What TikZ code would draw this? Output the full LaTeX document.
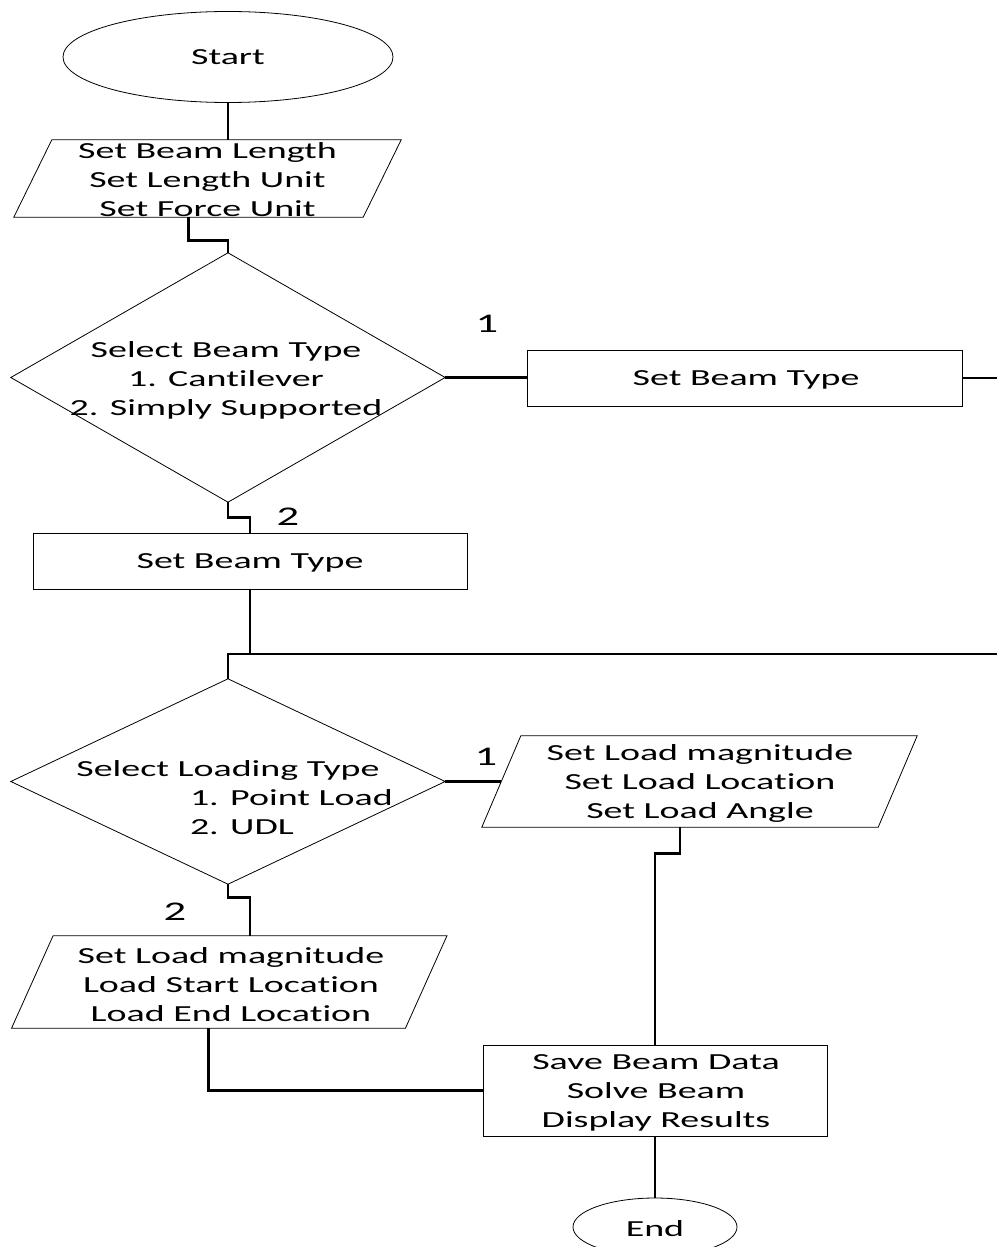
\documentclass[tikz,border=0pt]{standalone}
\usepackage{fontspec}
\setmainfont{Carlito}[FakeStretch=1.65,Ligatures=NoCommon]
\usetikzlibrary{shapes.geometric,calc}
\begin{document}
\begin{tikzpicture}[x=1pt,y=-1pt,
  every node/.style={font=\fontsize{23}{29}\selectfont, inner sep=0pt, align=center},
  shapeline/.style={draw, line width=0.8pt},
  conn/.style={line width=2.8pt},
  lbl/.style={font=\fontsize{27}{30}\selectfont},
  box/.style={rectangle, shapeline},
  holder/.style={rectangle}]
\useasboundingbox (0,0) rectangle (997,1247);

% Start
\node[ellipse, shapeline, minimum width=330pt, minimum height=91pt] (start) at (228,57) {Start};

% parallelogram 1
\node[holder, minimum width=349pt, minimum height=77pt] (p1) at (207.5,178.5) {};
\draw[shapeline] ([xshift=19pt]p1.north west) -- ([xshift=19pt]p1.north east) -- ([xshift=-19pt]p1.south east) -- ([xshift=-19pt]p1.south west) -- cycle;
\node (p1t) at (207.5,180) {Set Beam Length\\Set Length Unit\\Set Force Unit};

% diamond 1
\node[holder, minimum width=434pt, minimum height=249pt] (d1) at (228,377.5) {};
\draw[shapeline] (d1.north) -- (d1.east) -- (d1.south) -- (d1.west) -- cycle;
\node (d1t) at (226,380) {Select Beam Type\\1. Cantilever\\2. Simply Supported};

% right box
\node[box, minimum width=435pt, minimum height=56pt] (r1) at (744.5,378) {};
\node (r1t) at (746,380) {Set Beam Type};
\coordinate (edge1) at (997,378);

% box 2
\node[box, minimum width=434pt, minimum height=56pt] (r2) at (250,561) {};
\node (r2t) at (250,563) {Set Beam Type};

% junction
\coordinate (j) at (228,654);
\coordinate (edge2) at (997,654);

% diamond 2
\node[holder, minimum width=434pt, minimum height=205pt] (d2) at (228,781.5) {};
\draw[shapeline] (d2.north) -- (d2.east) -- (d2.south) -- (d2.west) -- cycle;
\node (d2t) at (228,798) {Select Loading Type\\\makebox[76pt][l]{1. Point Load}\\\makebox[76pt][l]{2. UDL}};

% parallelogram 3
\node[holder, minimum width=396pt, minimum height=91pt] (p3) at (699.5,781.5) {};
\draw[shapeline] ([xshift=19.5pt]p3.north west) -- ([xshift=19.5pt]p3.north east) -- ([xshift=-19.5pt]p3.south east) -- ([xshift=-19.5pt]p3.south west) -- cycle;
\node (p3t) at (700,783) {Set Load magnitude\\Set Load Location\\Set Load Angle};

% parallelogram 4
\node[holder, minimum width=393.5pt, minimum height=92pt] (p4) at (229.25,982) {};
\draw[shapeline] ([xshift=20.75pt]p4.north west) -- ([xshift=20.75pt]p4.north east) -- ([xshift=-20.75pt]p4.south east) -- ([xshift=-20.75pt]p4.south west) -- cycle;
\node (p4t) at (231,984.5) {Set Load magnitude\\Load Start Location\\Load End Location};

% result box
\node[box, minimum width=344pt, minimum height=91pt] (r3) at (655,1090.5) {};
\node (r3t) at (656,1092.5) {Save Beam Data\\Solve Beam\\Display Results};

% End
\node[ellipse, shapeline, minimum width=164pt, minimum height=58pt] (end) at (655,1227) {};
\node (endt) at (655,1229) {End};

% labels
\node[lbl] (l1a) at (487,324) {1};
\node[lbl] (l2a) at (288,517) {2};
\node[lbl] (l1b) at (486,757) {1};
\node[lbl] (l2b) at (175,912) {2};

% connectors
\draw[conn] (start.south) -- (start.south |- p1.north);
\draw[conn] ([xshift=-19pt]p1.south) -- ++(0,23) -| (d1.north);
\draw[conn] (d1.east) -- (d1.east -| r1.west);
\draw[conn] (r1.east) -- (r1.east -| edge1);
\draw[conn] (d1.south) -- ++(0,15) -| (r2.north);
\draw[conn] (r2.south) -- (r2.south |- j);
\draw[conn] (edge2) -- (j) -- (d2.north);
\draw[conn] (d2.east) -- (p3.west);
\draw[conn] ([xshift=-19.5pt]p3.south) -- ++(0,26) -| (r3.north);
\draw[conn] (d2.south) -- ++(0,13) -| ([xshift=20.75pt]p4.north);
\draw[conn] ([xshift=-20.75pt]p4.south) |- (r3.west);
\draw[conn] (r3.south) -- (end.north);
\end{tikzpicture}
\end{document}
